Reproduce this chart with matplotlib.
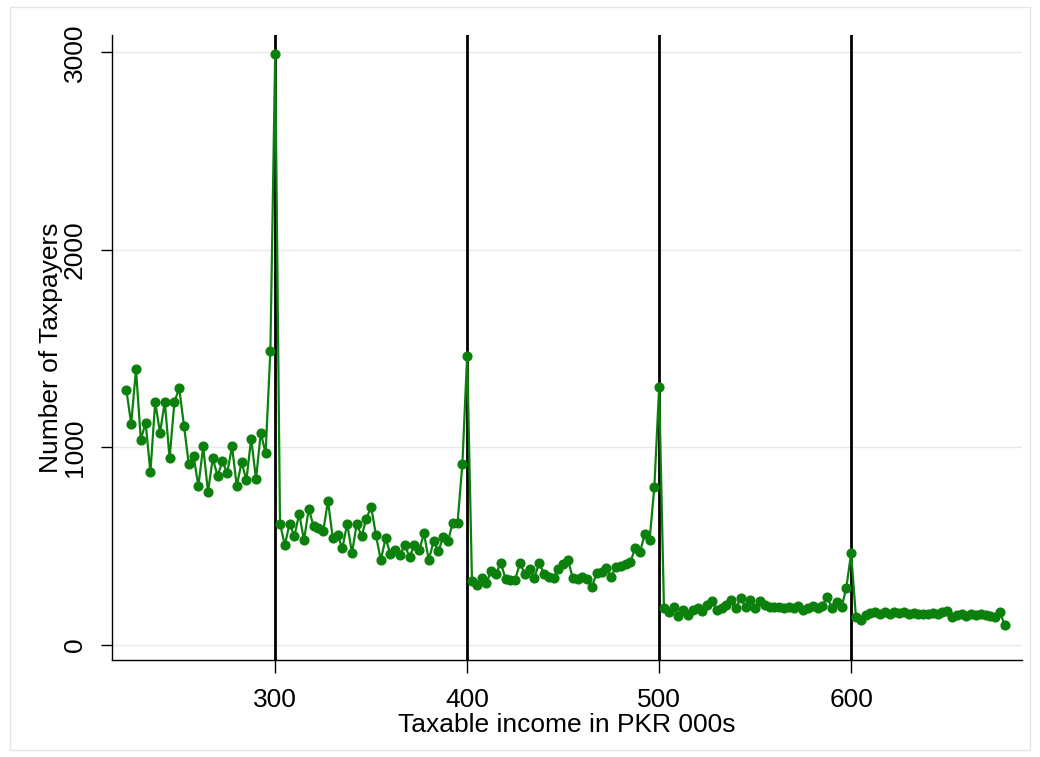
import matplotlib
matplotlib.use("Agg")
import matplotlib.pyplot as plt
import numpy as np
from matplotlib.patches import Rectangle

# taxpayer counts per 2.5k income bin, split at the bracket thresholds
BIN_START, BIN_END, BIN_WIDTH = 222.5, 680.0, 2.5
below_300 = [1290, 1120, 1395, 1040, 1125, 875, 1230, 1075, 1230, 945,
             1230, 1300, 1110, 915, 955, 805, 1005, 775, 945, 855,
             930, 870, 1005, 805, 925, 835, 1045, 840, 1075, 970, 1490]
peak_300 = [2990]
band_300 = [615, 505, 615, 550, 665, 530, 690, 600, 590, 575,
            730, 540, 555, 490, 615, 465, 615, 550, 640, 700,
            555, 430, 540, 460, 480, 455, 505, 445, 505, 480,
            565, 430, 525, 475, 545, 525, 620, 620, 915]
peak_400 = [1465]
band_400 = [325, 305, 340, 315, 375, 360, 415, 335, 330, 330,
            415, 360, 385, 340, 415, 360, 345, 340, 385, 410,
            430, 340, 335, 345, 335, 295, 365, 370, 390, 345,
            395, 400, 410, 420, 490, 470, 560, 530, 800]
peak_500 = [1305]
band_500 = [186, 165, 194, 148, 177, 152, 177, 186, 172, 203,
            223, 177, 186, 203, 228, 186, 240, 190, 228, 186,
            223, 203, 194, 191, 194, 186, 190, 186, 199, 177,
            186, 199, 186, 199, 245, 186, 220, 190, 290]
peak_600 = [465]
band_600 = [140, 125, 150, 160, 165, 155, 165, 155, 165, 160,
            165, 158, 162, 155, 158, 158, 162, 158, 165, 170,
            140, 150, 158, 145, 158, 150, 158, 152, 145, 140,
            168, 100]

thresholds = [300, 400, 500, 600]
y_ticks = [0, 1000, 2000, 3000]

counts = np.array(below_300 + peak_300 + band_300 + peak_400 + band_400
                  + peak_500 + band_500 + peak_600 + band_600)
income = np.arange(BIN_START, BIN_END + BIN_WIDTH / 2, BIN_WIDTH)

FONT = ["Liberation Sans Narrow", "Liberation Sans", "DejaVu Sans"]
plt.rcParams["font.family"] = FONT
GREEN = "#0c800c"

W, H = 1040, 757
fig = plt.figure(figsize=(W / 100, H / 100), dpi=100, facecolor="white")
fig.patches.append(Rectangle((10 / W, 7 / H), 1020 / W, 743 / H,
                             transform=fig.transFigure, fill=False,
                             edgecolor="#e4e6e8", linewidth=1.0))
ax = fig.add_axes([112 / W, 1 - 660 / H, (1022 - 112) / W, (660 - 35) / H])

ax.set_xlim(215, 689)
ax.set_ylim(-76, 3088)

for x in thresholds:
    ax.axvline(x, color="black", linewidth=2.0, zorder=2)

ax.plot(income, counts, color=GREEN, linewidth=1.6, marker="o",
        markersize=6.3, markerfacecolor=GREEN, markeredgecolor=GREEN,
        zorder=3)

ax.set_yticks(y_ticks)
ax.set_xticks(thresholds)
ax.yaxis.grid(True, color="#e8e8e8", linewidth=1.0)
ax.set_axisbelow(True)

for side in ("top", "right"):
    ax.spines[side].set_visible(False)
for side in ("left", "bottom"):
    ax.spines[side].set_color("black")
    ax.spines[side].set_linewidth(1.0)

ax.tick_params(axis="x", length=9, width=1.0, pad=11, labelsize=19)
ax.tick_params(axis="y", length=8, width=1.0, pad=10, labelsize=19,
               labelrotation=90)
for lab in ax.get_yticklabels():
    lab.set_va("center")

ax.set_xlabel("Taxable income in PKR 000s", fontsize=19, labelpad=1)
ax.set_ylabel("Number of Taxpayers", fontsize=19, labelpad=0)

fig.savefig("out.png", dpi=100, facecolor="white")
